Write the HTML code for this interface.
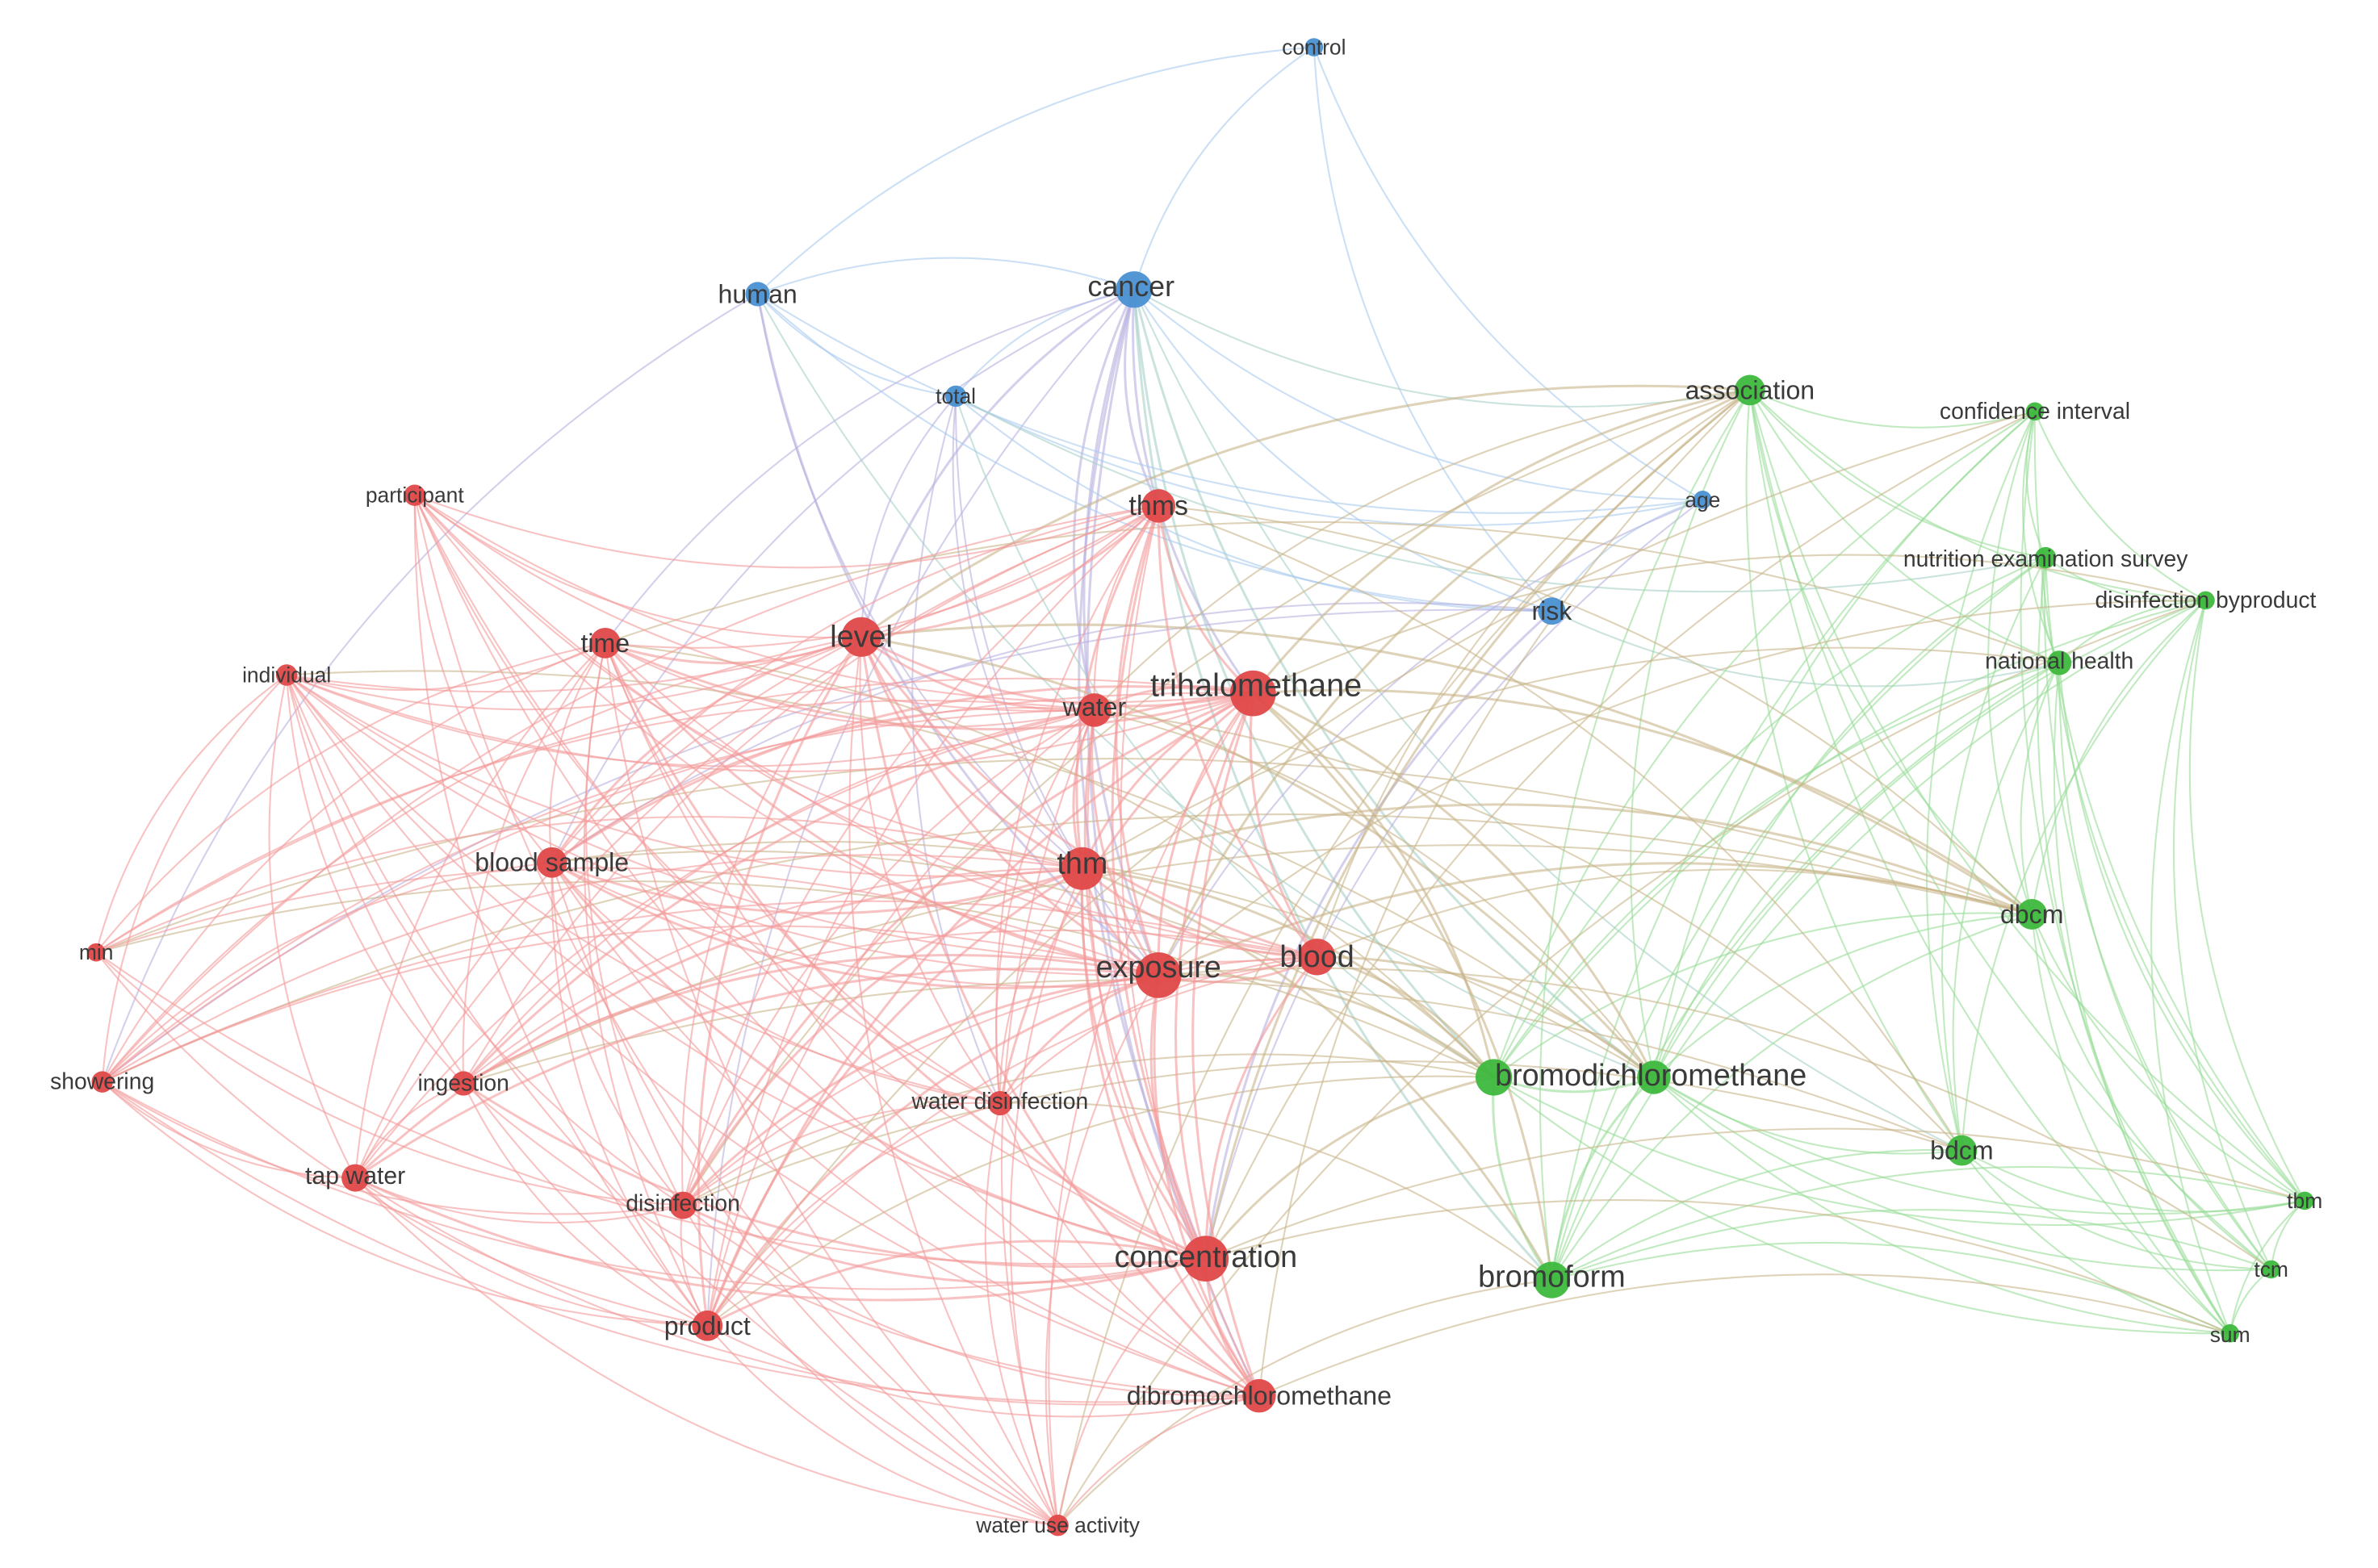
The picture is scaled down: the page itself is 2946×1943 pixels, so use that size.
<!DOCTYPE html>
<html><head><meta charset="utf-8">
<style>
html,body{margin:0;padding:0;background:#fff;}
svg{display:block;}
text{font-family:"Liberation Sans","DejaVu Sans",sans-serif;fill:#3a3a3a;text-anchor:middle;dominant-baseline:central;}
</style></head>
<body>
<svg id="s" width="2946" height="1943" viewBox="0 0 1560 1029" xmlns="http://www.w3.org/2000/svg">
<rect width="1560" height="1029" fill="#fff"/>
<g id="edges" fill="none" stroke-linecap="round"></g>
<g id="nodes"></g>
<g id="labels">
<text x="862" y="31" font-size="14">control</text>
<text x="742" y="188" font-size="19">cancer</text>
<text x="497" y="193" font-size="17">human</text>
<text x="627" y="260" font-size="14">total</text>
<text x="1117" y="328" font-size="14">age</text>
<text x="1018" y="401" font-size="17">risk</text>
<text x="1148" y="256" font-size="17">association</text>
<text x="1335" y="270" font-size="15">confidence interval</text>
<text x="1342" y="367" font-size="15">nutrition examination survey</text>
<text x="1447" y="394" font-size="15">disinfection byproduct</text>
<text x="1351" y="434" font-size="15">national health</text>
<text x="1333" y="600" font-size="17">dbcm</text>
<text x="1083" y="706" font-size="20">bromodichloromethane</text>
<text x="1287" y="755" font-size="17">bdcm</text>
<text x="1512" y="788" font-size="14">tbm</text>
<text x="1490" y="833" font-size="14">tcm</text>
<text x="1463" y="876" font-size="14">sum</text>
<text x="1018" y="838" font-size="20">bromoform</text>
<text x="272" y="325" font-size="14">participant</text>
<text x="188" y="443" font-size="14">individual</text>
<text x="397" y="422" font-size="17">time</text>
<text x="565" y="418" font-size="20">level</text>
<text x="760" y="332" font-size="18">thms</text>
<text x="824" y="450" font-size="21">trihalomethane</text>
<text x="718" y="464" font-size="17">water</text>
<text x="362" y="566" font-size="17">blood sample</text>
<text x="710" y="567" font-size="20">thm</text>
<text x="760" y="635" font-size="20">exposure</text>
<text x="864" y="628" font-size="20">blood</text>
<text x="63" y="625" font-size="14">min</text>
<text x="67" y="710" font-size="15">showering</text>
<text x="304" y="711" font-size="15">ingestion</text>
<text x="656" y="723" font-size="15">water disinfection</text>
<text x="233" y="772" font-size="16">tap water</text>
<text x="448" y="790" font-size="15">disinfection</text>
<text x="791" y="825" font-size="20">concentration</text>
<text x="464" y="870" font-size="17">product</text>
<text x="826" y="916" font-size="17">dibromochloromethane</text>
<text x="694" y="1001" font-size="14">water use activity</text>
</g>
</svg>
<script>
var N=[
["control",862,31,6,"b"],["cancer",744,190,12,"b"],["human",497,193,8,"b"],["total",627,260,7,"b"],["age",1117,328,6,"b"],["risk",1018,401,9,"b"],
["association",1148,256,10,"g"],["ci",1335,270,6,"g"],["nes",1342,366,7,"g"],["dbp",1447,394,6,"g"],["nh",1351,435,8,"g"],["dbcm",1333,600,10,"g"],
["bdcm1",980,707,12,"g"],["bdcm2",1085,707,11,"g"],["bdcm",1287,755,10,"g"],["tbm",1512,788,6,"g"],["tcm",1490,833,6,"g"],["sum",1463,875,6,"g"],["bromoform",1018,840,12,"g"],
["participant",272,325,7,"r"],["individual",188,443,7,"r"],["time",397,422,10,"r"],["level",565,418,13,"r"],["thms",760,332,11,"r"],["thm_",822,455,15,"r"],["water",718,466,11,"r"],
["bs",362,566,10,"r"],["thm",710,570,14,"r"],["exposure",760,640,15,"r"],["blood",864,628,12,"r"],["min",63,625,6,"r"],["showering",67,710,7,"r"],["ingestion",304,711,8,"r"],
["wd",656,724,8,"r"],["tap",233,773,9,"r"],["dis",448,791,9,"r"],["conc",791,826,15,"r"],["product",464,870,10,"r"],["dbcm_r",826,916,11,"r"],["wua",694,1001,7,"r"]];
var col={r:"#e04848",g:"#3db83d",b:"#4a90d2"};
var ec={rr:"#f49a9a",gg:"#98dc98",bb:"#a8caee",rg:"#c8b488",gr:"#c8b488",rb:"#b8b0e0",br:"#b8b0e0",gb:"#a8d0c8",bg:"#a8d0c8"};
var seed=7;function rnd(){seed=(seed*16807)%2147483647;return seed/2147483647;}
var E=document.getElementById("edges"),out="";
for(var i=0;i<N.length;i++)for(var j=i+1;j<N.length;j++){
 var a=N[i],b=N[j];var p=(a[3]+b[3])/26;if(a[4]==b[4])p+=0.18;if(a[4]=="b"&&b[4]=="b")p+=0.3;
 if(a[4]=="g"&&b[4]=="g")p+=0.3;
 p=Math.min(0.95,p*p*1.05);
 if(a[4]!=b[4]){ if(a[3]+b[3]<21)p*=0.2; else p*=0.55; if(a[4]=="b"||b[4]=="b")p*=0.8;}
 if(a[0]=="cancer"&&b[3]>=10)p=0.85;
 if(a[0]=="control"&&["cancer","human","age","risk","thm_"].indexOf(b[0])<0)p=0;
 if(rnd()>p)continue;
 var dx=b[1]-a[1],dy=b[2]-a[2],cx=(a[1]+b[1])/2-dy*0.18,cy=(a[2]+b[2])/2+dx*0.18;
 var w=(a[3]+b[3])>22?1.6:1.1;
 out+='<path d="M'+a[1]+' '+a[2]+'Q'+cx.toFixed(1)+' '+cy.toFixed(1)+' '+b[1]+' '+b[2]+'" stroke="'+ec[a[4]+b[4]]+'" stroke-width="'+w+'" stroke-opacity="0.6"/>';
}
E.innerHTML=out;
var s="";N.forEach(function(n){s+='<circle cx="'+n[1]+'" cy="'+n[2]+'" r="'+n[3]+'" fill="'+col[n[4]]+'" fill-opacity="0.95"/>';});
document.getElementById("nodes").innerHTML=s;
</script>
</body></html>
